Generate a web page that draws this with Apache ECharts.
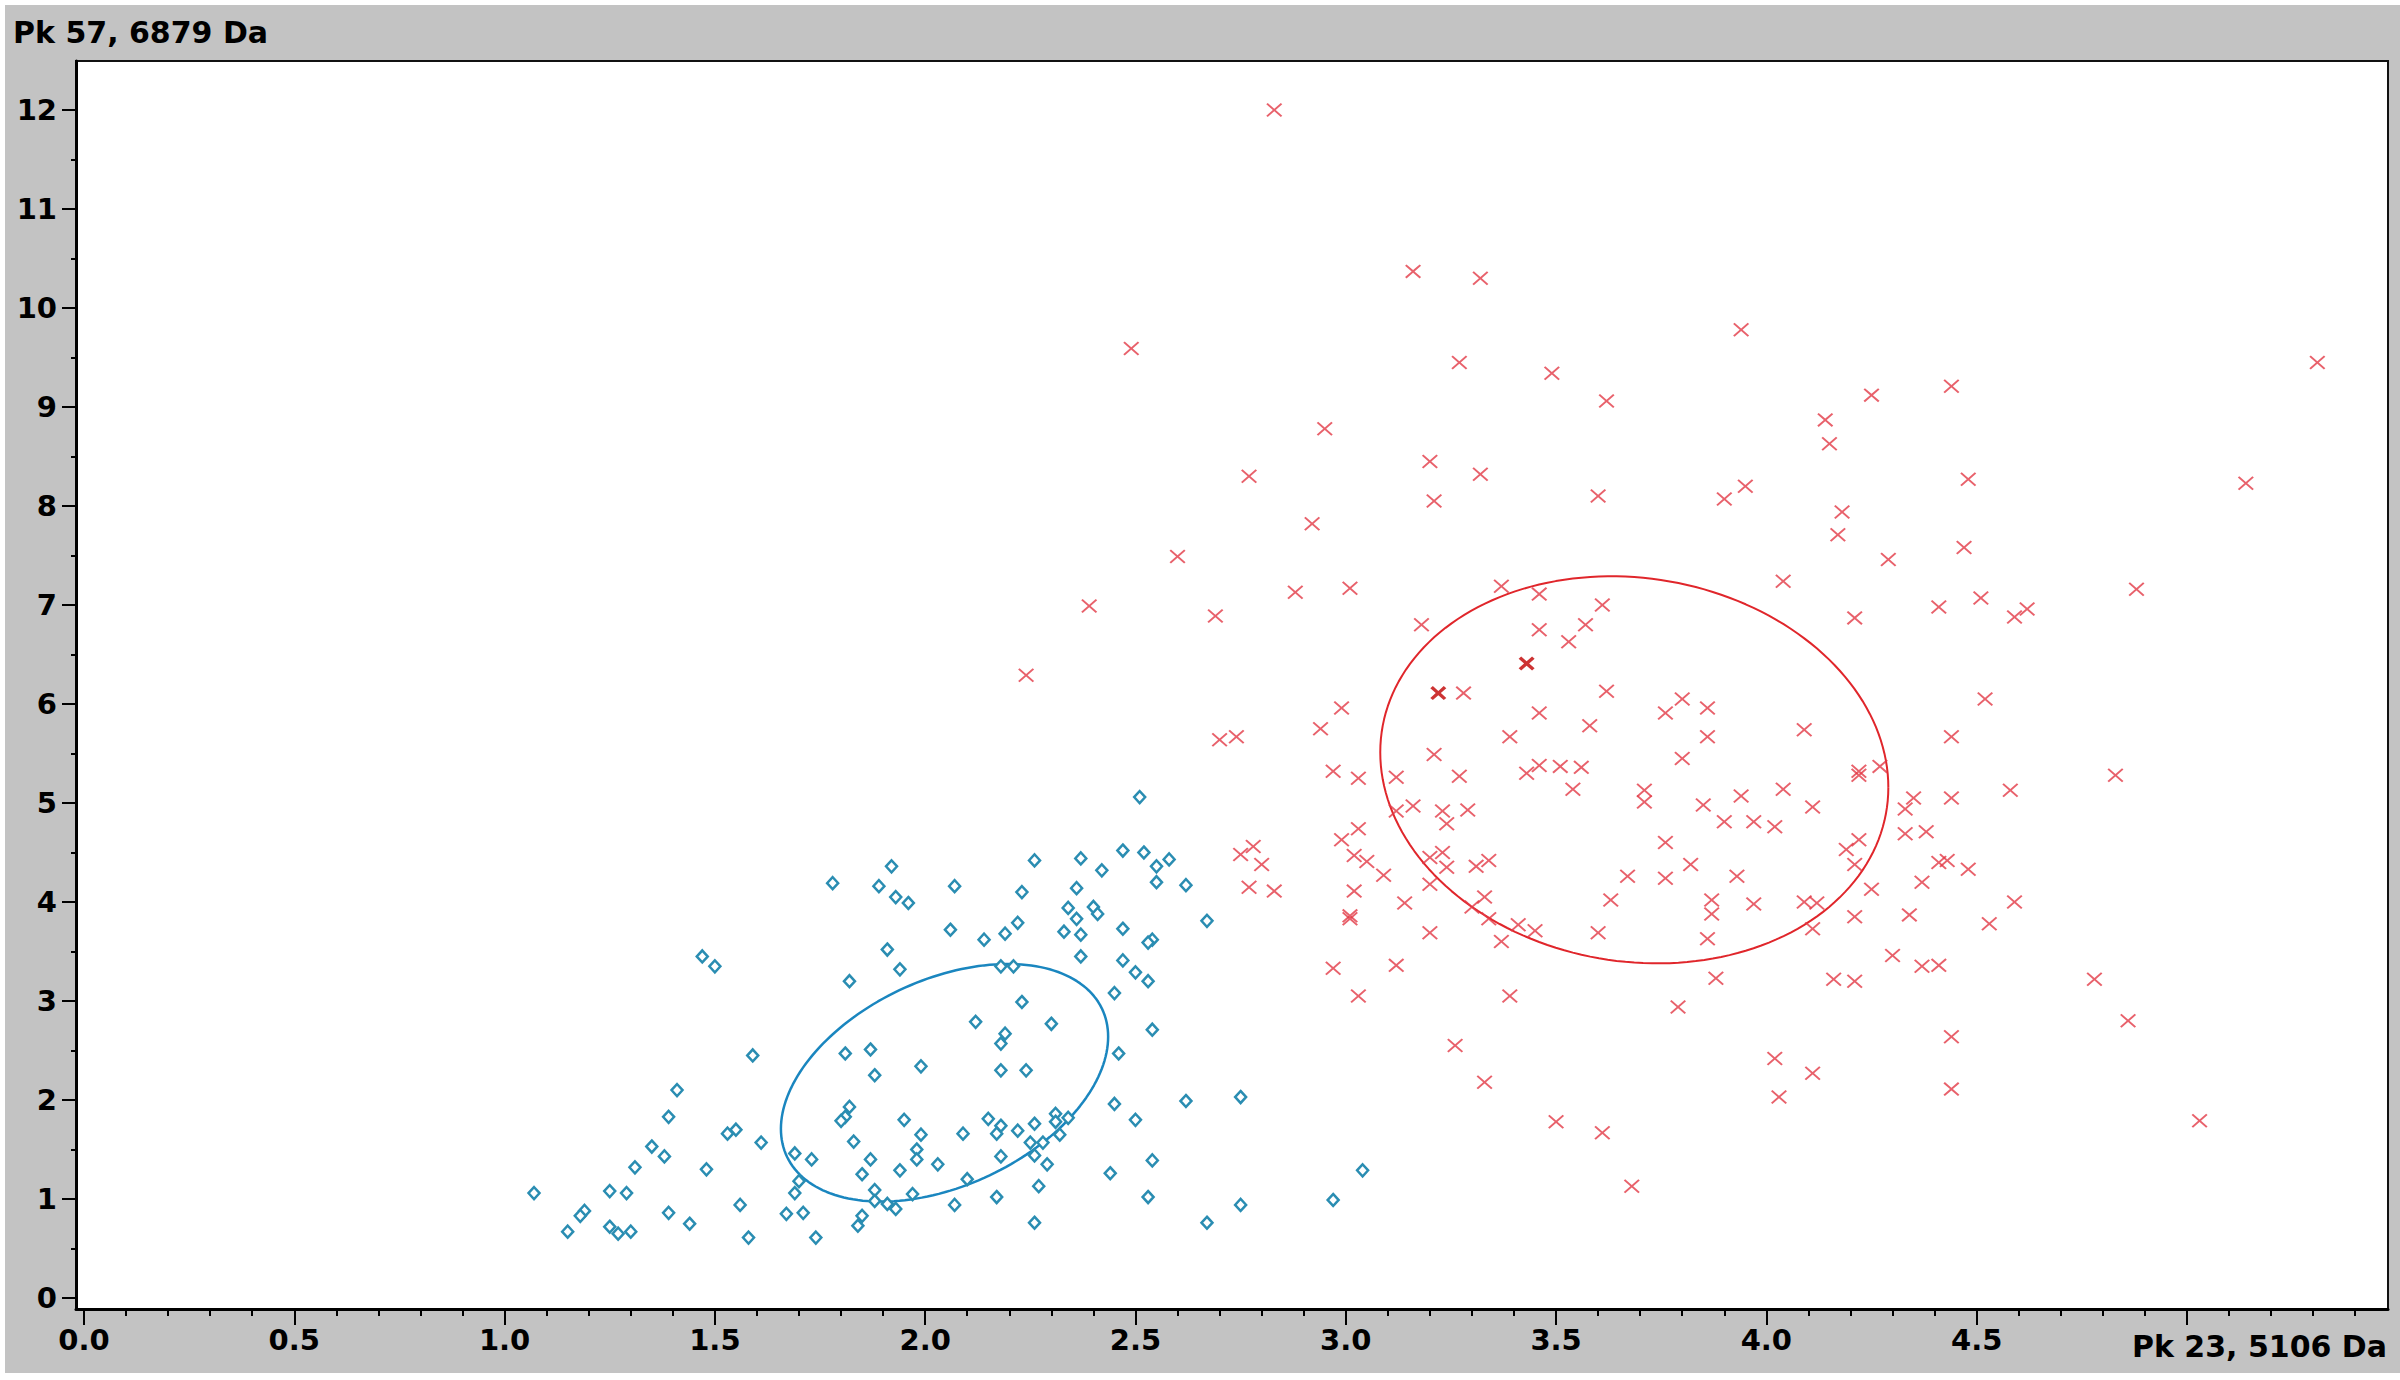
<!DOCTYPE html>
<html>
<head>
<meta charset="utf-8">
<script src="https://cdn.jsdelivr.net/npm/echarts@6/dist/echarts.min.js"></script>
<style>
html,body{margin:0;padding:0;background:#fff;}
#chart{width:2400px;height:1380px;}
</style>
</head>
<body>
<div id="chart"></div>
<script>
// ---------------- data ----------------
const yTitle = 'Pk 57, 6879 Da';
const xTitle = 'Pk 23, 5106 Da';

const xTickLabels = [0, 0.5, 1.0, 1.5, 2.0, 2.5, 3.0, 3.5, 4.0, 4.5];
const xMajorTicks = [0, 0.5, 1.0, 1.5, 2.0, 2.5, 3.0, 3.5, 4.0, 4.5, 5.0];
const yTickLabels = [0, 1, 2, 3, 4, 5, 6, 7, 8, 9, 10, 11, 12];

// blue diamonds (class 1)
const blueGroup = [
 [1.92,4.36],[1.78,4.19],[1.89,4.16],[1.93,4.05],[1.96,3.99],[2.07,4.16],[2.23,4.10],
 [2.06,3.72],[2.14,3.62],[2.19,3.68],[2.22,3.79],[1.91,3.52],[1.94,3.32],[1.82,3.20],[2.18,3.35],[2.21,3.35],[2.23,2.99],
 [2.12,2.79],[2.19,2.67],[2.18,2.57],[2.18,2.30],[2.24,2.30],[1.99,2.34],[1.81,2.47],[1.87,2.51],[1.88,2.25],[1.59,2.45],
 [1.47,3.45],[1.50,3.35],[1.41,2.10],[1.39,1.83],[1.55,1.70],[1.53,1.66],[1.61,1.57],[1.35,1.53],[1.38,1.43],[1.31,1.32],
 [1.48,1.30],[1.07,1.06],[1.25,1.08],[1.29,1.06],[1.19,0.88],[1.18,0.83],[1.15,0.67],[1.25,0.72],[1.27,0.65],[1.30,0.67],
 [1.39,0.86],[1.44,0.75],[1.56,0.94],[1.58,0.61],[1.67,0.85],[1.71,0.86],[1.74,0.61],[1.69,1.46],[1.73,1.40],[1.70,1.18],
 [1.69,1.06],[1.82,1.93],[1.81,1.83],[1.80,1.79],[1.83,1.58],[1.95,1.80],[1.99,1.65],[1.98,1.50],[1.98,1.40],[1.87,1.40],
 [1.85,1.25],[1.94,1.29],[2.03,1.35],[2.09,1.66],[2.15,1.81],[2.18,1.74],[2.17,1.66],[2.22,1.69],[2.26,1.76],[2.18,1.43],
 [2.10,1.20],[1.88,1.09],[1.88,0.98],[1.91,0.95],[1.93,0.90],[1.97,1.05],[1.85,0.83],[1.84,0.73],[2.07,0.94],[2.17,1.02],
 [2.25,1.57],
 [2.51,5.06],[2.26,4.42],[2.37,4.44],[2.47,4.52],[2.52,4.50],[2.55,4.36],[2.58,4.43],[2.42,4.32],[2.36,4.14],[2.55,4.20],
 [2.62,4.17],[2.34,3.94],[2.40,3.95],[2.41,3.88],[2.36,3.83],[2.33,3.70],[2.37,3.67],[2.47,3.73],[2.54,3.62],[2.53,3.59],
 [2.67,3.81],[2.37,3.45],[2.47,3.41],[2.50,3.29],[2.53,3.20],[2.45,3.08],[2.30,2.77],[2.54,2.71],[2.46,2.47],[2.45,1.96],
 [2.62,1.99],[2.75,2.03],[2.50,1.80],[2.31,1.86],[2.31,1.78],[2.34,1.82],[2.32,1.65],[2.28,1.57],[2.26,1.44],[2.29,1.35],
 [2.54,1.39],[2.44,1.26],[2.27,1.13],[2.53,1.02],[2.75,0.94],[2.26,0.76],[2.67,0.76],[3.04,1.29],[2.97,0.99]
];

// red crosses (class 2)
const redGroup = [
 [2.97,5.32],[3.03,5.25],[3.12,5.26],[3.27,5.27],[3.16,4.97],[3.12,4.92],[3.23,4.92],[3.29,4.93],[3.24,4.79],[3.03,4.74],
 [2.99,4.63],[2.78,4.56],[2.75,4.48],[2.80,4.38],[2.77,4.15],[2.83,4.11],[3.02,4.47],[3.05,4.41],[3.09,4.27],[3.20,4.45],
 [3.23,4.50],[3.24,4.35],[3.20,4.18],[3.31,4.36],[3.34,4.42],[3.02,4.11],[3.14,3.99],[3.01,3.86],[3.01,3.83],[3.20,3.69],
 [3.33,4.05],[3.30,3.95],[3.34,3.83],[3.37,3.60],[3.41,3.77],[2.97,3.33],[3.12,3.36],[3.03,3.05],[3.39,3.05],[3.26,2.55],
 [3.33,2.18],
 [3.43,5.30],[3.46,5.38],[3.51,5.37],[3.56,5.36],[3.54,5.14],[3.71,5.13],[3.71,5.01],[3.85,4.98],[3.94,5.07],[4.04,5.14],
 [4.11,4.96],[3.90,4.81],[3.97,4.81],[4.02,4.76],[4.22,5.32],[4.22,5.28],[4.27,5.37],[4.35,5.05],[4.33,4.94],[4.44,5.05],
 [4.58,5.13],[3.76,4.60],[3.82,4.38],[3.67,4.26],[3.76,4.24],[3.93,4.26],[3.63,4.02],[3.87,4.02],[3.87,3.88],[3.97,3.98],
 [4.09,4.00],[4.12,3.99],[3.60,3.69],[3.86,3.63],[3.45,3.71],[4.11,3.73],[4.21,3.85],[4.25,4.13],[4.22,4.63],[4.19,4.53],
 [4.21,4.38],[4.33,4.69],[4.38,4.71],[4.41,4.40],[4.43,4.42],[4.48,4.33],[4.37,4.20],[4.34,3.87],[4.59,4.00],[4.53,3.78],
 [4.30,3.46],[4.37,3.35],[4.41,3.36],[4.16,3.22],[4.21,3.20],[3.88,3.23],[3.79,2.94],[4.44,2.64],[4.02,2.42],[4.11,2.27],
 [4.03,2.03],[4.44,2.11],[3.50,1.78],[3.61,1.67],[3.68,1.13],
 [3.94,9.78],[3.49,9.34],[3.62,9.06],[4.25,9.12],[4.44,9.21],[4.14,8.87],[4.15,8.63],[3.60,8.10],[3.90,8.07],[3.95,8.20],
 [4.48,8.27],[4.18,7.94],[4.17,7.71],[4.29,7.46],[4.47,7.58],[4.04,7.24],[4.21,6.87],[4.41,6.98],[4.51,7.07],[4.59,6.88],
 [4.62,6.96],[3.46,7.11],[3.61,7.00],[3.46,6.75],[3.57,6.80],[3.53,6.63],[3.62,6.13],[3.46,5.91],[3.58,5.78],[3.76,5.91],
 [3.80,6.05],[3.86,5.96],[3.86,5.67],[4.09,5.74],[4.52,6.05],[4.44,5.67],[3.80,5.45],
 [3.16,10.37],[3.32,10.30],[2.49,9.59],[3.27,9.45],[2.95,8.78],[3.20,8.45],[3.32,8.32],[3.21,8.05],[2.77,8.30],[2.92,7.82],
 [2.60,7.49],[2.88,7.13],[3.01,7.17],[2.39,6.99],[2.69,6.89],[3.37,7.19],[3.18,6.80],[2.24,6.29],[3.28,6.11],[2.99,5.96],
 [2.94,5.75],[2.70,5.64],[2.74,5.67],[3.39,5.67],[3.21,5.49],
 [5.31,9.45],[5.14,8.23],[4.88,7.16],[4.83,5.28],[4.78,3.22],[4.86,2.80],[5.03,1.79],
 [2.83,12.00]
];

// two emphasised (bold, darker) crosses
const redBold = [[3.43,6.41],[3.22,6.11]];

// confidence ellipses: [centre x, centre y, half-width x, half-height y, phase (deg)]
const blueEllipse = [2.046, 2.174, 0.389, 1.200, 67.2];
const redEllipse  = [3.686, 5.335, 0.604, 1.955, 95.2];

// ---------------- chart ----------------
const X_MIN = -0.019, X_MAX = 5.478;
const Y_MIN = -0.111, Y_MAX = 12.495;

function range(a, b, step) { const out = []; for (let v = a; v <= b + 1e-9; v += step) out.push(Math.round(v * 100) / 100); return out; }
const xMinorTicks = range(0.1, 5.4, 0.1).filter(v => Math.abs(v * 2 - Math.round(v * 2)) > 1e-6);
const yMinorTicks = range(0.5, 11.5, 1);

function ellipseOutline(p) {
  const [cx, cy, rx, ry, ph] = p;
  const out = [];
  for (let i = 0; i <= 360; i += 2) {
    const t = i * Math.PI / 180;
    out.push([cx + rx * Math.cos(t), cy + ry * Math.cos(t - ph * Math.PI / 180)]);
  }
  return out;
}

const FONT = 'DejaVu Sans';
const labelStyle = { fontSize: 29, fontWeight: 'bold', fontFamily: FONT, color: '#000' };
const CROSS = 'path://M0,9L9,0L50,41L91,0L100,9L59,50L100,91L91,100L50,59L9,100L0,91L41,50Z';
const CROSS_BOLD = 'path://M0,16L16,0L50,34L84,0L100,16L66,50L100,84L84,100L50,66L16,100L0,84L34,50Z';

const chart = echarts.init(document.getElementById('chart'), null, { renderer: 'svg' });
chart.setOption({
  animation: false,
  backgroundColor: '#c3c3c3',
  grid: { left: 76, right: 12, top: 61, bottom: 71, show: true, backgroundColor: '#fff', borderColor: '#111', borderWidth: 2 },
  xAxis: [
    {
      type: 'value', min: X_MIN, max: X_MAX, position: 'bottom',
      axisLine: { show: true, onZero: false, lineStyle: { color: '#000', width: 3 } },
      axisTick: { show: true, customValues: xMajorTicks, length: 16, lineStyle: { color: '#000', width: 2 } },
      axisLabel: Object.assign({ show: true, customValues: xTickLabels, margin: 16, formatter: v => Number(v).toFixed(1) }, labelStyle),
      splitLine: { show: false }
    },
    {
      type: 'value', min: X_MIN, max: X_MAX, position: 'bottom',
      axisLine: { show: false, onZero: false },
      axisTick: { show: true, customValues: xMinorTicks, length: 7, lineStyle: { color: '#000', width: 2 } },
      axisLabel: { show: false },
      splitLine: { show: false }
    }
  ],
  yAxis: [
    {
      type: 'value', min: Y_MIN, max: Y_MAX, position: 'left',
      axisLine: { show: true, onZero: false, lineStyle: { color: '#000', width: 3 } },
      axisTick: { show: true, customValues: yTickLabels, length: 14, lineStyle: { color: '#000', width: 2 } },
      axisLabel: Object.assign({ show: true, customValues: yTickLabels, margin: 19, formatter: v => String(Math.round(v)) }, labelStyle),
      splitLine: { show: false }
    },
    {
      type: 'value', min: Y_MIN, max: Y_MAX, position: 'left',
      axisLine: { show: false, onZero: false },
      axisTick: { show: true, customValues: yMinorTicks, length: 5, lineStyle: { color: '#000', width: 2 } },
      axisLabel: { show: false },
      splitLine: { show: false }
    }
  ],
  graphic: [
    { type: 'rect', shape: { x: 0, y: 0, width: 2400, height: 5 }, style: { fill: '#fff' }, silent: true },
    { type: 'rect', shape: { x: 0, y: 0, width: 5, height: 1380 }, style: { fill: '#fff' }, silent: true },
    { type: 'rect', shape: { x: 0, y: 1373, width: 2400, height: 7 }, style: { fill: '#fff' }, silent: true },
    { type: 'text', x: 13, y: 32, style: { text: yTitle, fontSize: 30, fontWeight: 'bold', fontFamily: FONT, fill: '#000', align: 'left', verticalAlign: 'middle' } },
    { type: 'text', x: 2387, y: 1346, style: { text: xTitle, fontSize: 30, fontWeight: 'bold', fontFamily: FONT, fill: '#000', align: 'right', verticalAlign: 'middle' } }
  ],
  series: [
    {
      type: 'line', data: ellipseOutline(blueEllipse), xAxisIndex: 0, yAxisIndex: 0,
      showSymbol: false, symbol: 'none', silent: true, z: 2,
      lineStyle: { color: '#1a86bf', width: 2.5 }
    },
    {
      type: 'line', data: ellipseOutline(redEllipse), xAxisIndex: 0, yAxisIndex: 0,
      showSymbol: false, symbol: 'none', silent: true, z: 2,
      lineStyle: { color: '#e0262b', width: 2 }
    },
    {
      type: 'scatter', data: blueGroup, xAxisIndex: 0, yAxisIndex: 0, z: 3,
      symbol: 'diamond', symbolSize: [11, 12],
      itemStyle: { color: '#ffffff', borderColor: '#2a8db2', borderWidth: 2.5, opacity: 1 }
    },
    {
      type: 'scatter', data: redGroup, xAxisIndex: 0, yAxisIndex: 0, z: 3,
      symbol: CROSS, symbolSize: [16, 14],
      itemStyle: { color: '#e23a46' }
    },
    {
      type: 'scatter', data: redBold, xAxisIndex: 0, yAxisIndex: 0, z: 4,
      symbol: CROSS_BOLD, symbolSize: [16, 14],
      itemStyle: { color: '#c00000' }
    }
  ]
});
</script>
</body>
</html>
